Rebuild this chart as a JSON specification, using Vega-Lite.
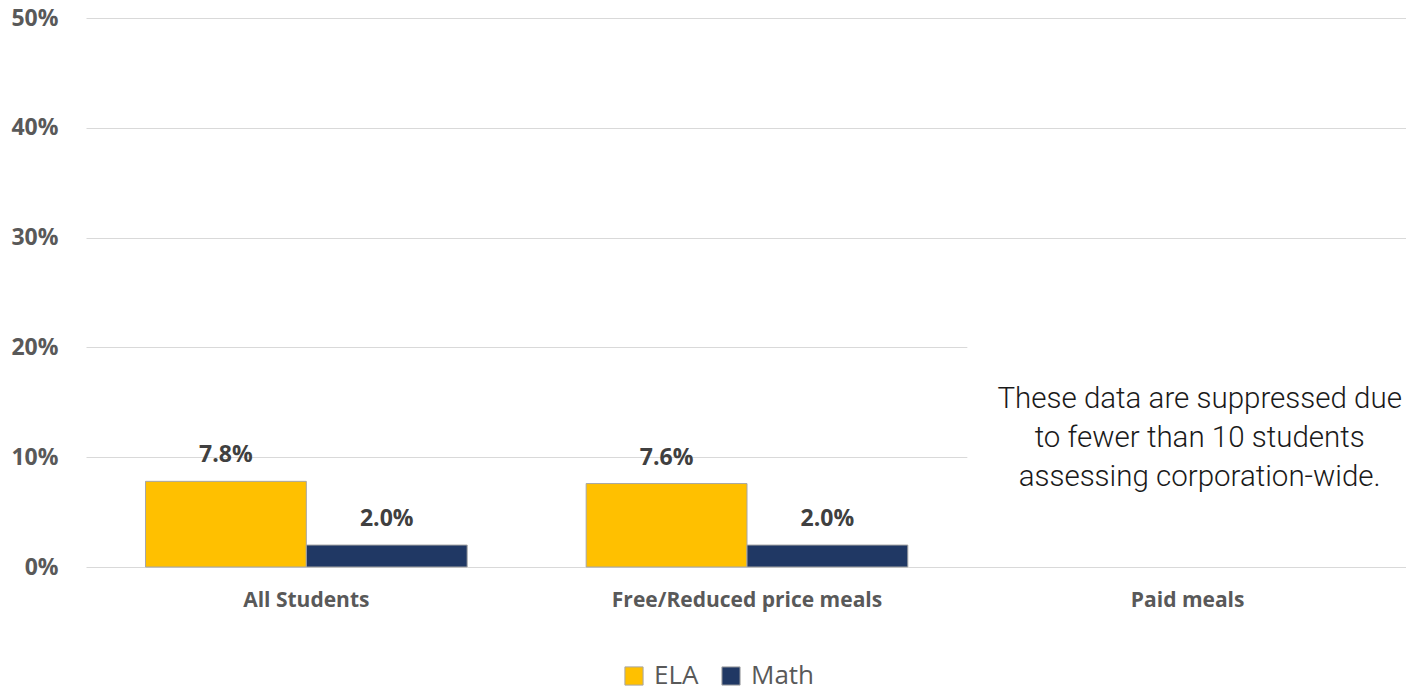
{
  "$schema": "https://vega.github.io/schema/vega-lite/v6.json",
  "width": 1322,
  "height": 549,
  "autosize": {"type": "none"},
  "padding": {"left": 86, "top": 18, "right": 0, "bottom": 125},
  "background": "white",
  "config": {"view": {"stroke": null}},
  "datasets": {
    "scores": [
      {"group": "All Students", "subject": "ELA", "value": 0.078},
      {"group": "All Students", "subject": "Math", "value": 0.020},
      {"group": "Free/Reduced price meals", "subject": "ELA", "value": 0.076},
      {"group": "Free/Reduced price meals", "subject": "Math", "value": 0.020}
    ],
    "cover": [{"group": "Paid meals", "y1": 0.085, "y2": 0.215}],
    "note": [{"group": "Paid meals", "y": 0.153, "label": "These data are suppressed due\nto fewer than 10 students\nassessing corporation-wide."}]
  },
  "encoding": {
    "x": {
      "field": "group", "type": "nominal", "sort": null,
      "scale": {"domain": ["All Students", "Free/Reduced price meals", "Paid meals"], "paddingInner": 0.27, "paddingOuter": 0.135},
      "axis": {"title": null, "labelAngle": 0, "ticks": false, "domain": false, "labelFont": "Open Sans", "labelFontWeight": "bold", "labelFontSize": 21, "labelColor": "#595959", "labelPadding": 22, "labelLimit": 0}
    }
  },
  "layer": [
    {
      "data": {"name": "scores"},
      "mark": {"type": "bar", "stroke": "#a6a6a6", "strokeWidth": 1},
      "encoding": {
        "xOffset": {"field": "subject", "type": "nominal", "scale": {"domain": ["ELA", "Math"], "paddingInner": 0, "paddingOuter": 0}},
        "y": {
          "field": "value", "type": "quantitative",
          "scale": {"domain": [0, 0.5], "nice": false},
          "axis": {"title": null, "format": ".0%", "values": [0, 0.1, 0.2, 0.3, 0.4, 0.5], "ticks": false, "domain": false, "grid": true, "gridColor": "#d9d9d9", "gridWidth": 1, "labelFont": "Open Sans", "labelFontWeight": "bold", "labelFontSize": 23, "labelColor": "#595959", "labelPadding": 28}
        },
        "color": {
          "field": "subject", "type": "nominal",
          "scale": {"domain": ["ELA", "Math"], "range": ["#FFC000", "#203864"]},
          "legend": {"title": null, "orient": "none", "legendX": 535, "legendY": 645, "direction": "horizontal", "symbolType": "square", "symbolSize": 330, "symbolStrokeColor": "#a6a6a6", "symbolStrokeWidth": 1, "labelFont": "Open Sans", "labelFontSize": 26, "labelColor": "#595959", "labelOffset": 7, "columnPadding": 19, "padding": 0}
        }
      }
    },
    {
      "data": {"name": "scores"},
      "mark": {"type": "text", "baseline": "alphabetic", "dy": -19, "font": "Open Sans", "fontWeight": "bold", "fontSize": 23, "color": "#404040"},
      "encoding": {
        "xOffset": {"field": "subject", "type": "nominal", "scale": {"domain": ["ELA", "Math"], "paddingInner": 0, "paddingOuter": 0}},
        "y": {"field": "value", "type": "quantitative"},
        "text": {"field": "value", "type": "quantitative", "format": ".1%"}
      }
    },
    {
      "data": {"name": "cover"},
      "mark": {"type": "rect", "color": "white", "width": {"band": 1.37}},
      "encoding": {
        "y": {"field": "y1", "type": "quantitative"},
        "y2": {"field": "y2"}
      }
    },
    {
      "data": {"name": "note"},
      "mark": {"type": "text", "lineBreak": "\n", "baseline": "middle", "align": "center", "dx": 12, "font": "Roboto", "fontWeight": 300, "fontSize": 29.5, "lineHeight": 39, "color": "#1a1a1a"},
      "encoding": {
        "y": {"field": "y", "type": "quantitative"},
        "text": {"field": "label"}
      }
    }
  ]
}
